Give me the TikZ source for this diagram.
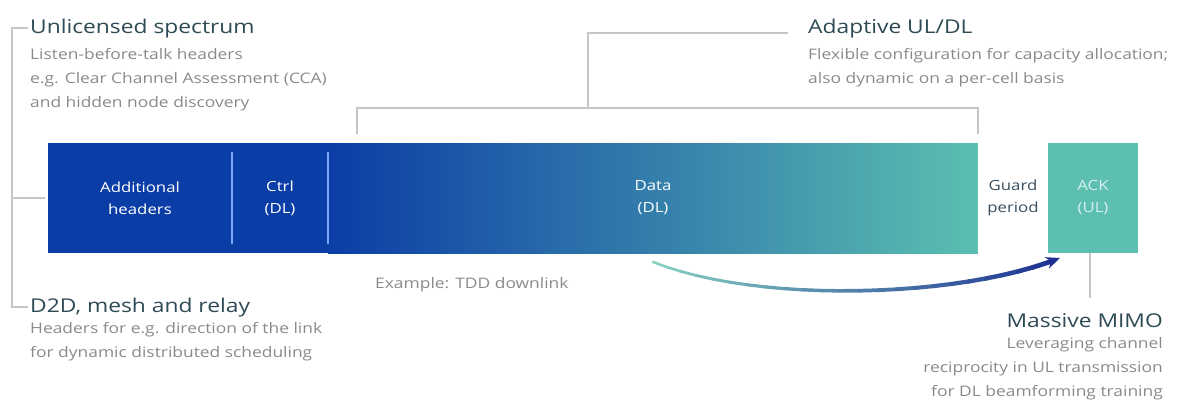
\documentclass[tikz,border=0pt]{standalone}
\usepackage{fontspec}
\setmainfont[FakeStretch=1.2]{Open Sans}
\usetikzlibrary{arrows.meta, positioning}
\definecolor{barblue}{HTML}{0B3DA6}
\definecolor{barteal}{HTML}{5CBFB0}
\definecolor{seplight}{HTML}{7FA6F2}
\definecolor{titlecol}{HTML}{2E4A55}
\definecolor{bodycol}{HTML}{8A8A8A}
\definecolor{bracketcol}{HTML}{C6C6C6}
\definecolor{guardtext}{HTML}{3A4F5E}
\definecolor{acktext}{HTML}{D6F1EC}
\definecolor{arrownavy}{HTML}{1C2F92}
\definecolor{arrowteal}{HTML}{86D0C2}
\tikzset{
  slot/.style = {minimum height=110pt, inner sep=0pt, outer sep=0pt,
    align=center, text=white, font=\fontsize{14}{22}\selectfont},
  headline/.style = {inner sep=0pt, text=titlecol,
    font=\fontsize{19}{24}\selectfont},
  bodytext/.style = {inner sep=0pt, text=bodycol,
    font=\fontsize{14.5}{24}\selectfont},
  bracket/.style = {draw=bracketcol, line width=1.5pt},
  sepline/.style = {draw=seplight, line width=2pt}
}

\begin{document}
\begin{tikzpicture}[x=1pt, y=-1pt]
\useasboundingbox (0,0) rectangle (1188,405);

\node [slot, fill=barblue, minimum width=184pt, anchor=north west] (hdr) at (48,143) {Additional\\headers};
\node [slot, fill=barblue, minimum width=96pt, right=0pt of hdr] (ctrl) {Ctrl\\(DL)};
\node [slot, left color=barblue, right color=barteal, minimum width=650pt, right=0pt of ctrl] (data) {Data\\(DL)};
\node [slot, fill=white, text=guardtext, minimum width=70pt, right=0pt of data] (guard) {Guard\\period};
\node [slot, fill=barteal, text=acktext, minimum width=90pt, right=0pt of guard] (ack) {ACK\\(UL)};

\draw [sepline] ([yshift=-9pt]hdr.north east) -- ([yshift=9pt]hdr.south east);
\draw [sepline] ([yshift=-9pt]ctrl.north east) -- ([yshift=9pt]ctrl.south east);

\node [headline, anchor=base west] (unlic) at (30,33) {Unlicensed spectrum};
\node [bodytext, anchor=north west, align=left] (unlictxt) at (30,48)
  {Listen-before-talk headers\\e.g. Clear Channel Assessment (CCA)\\and hidden node discovery};

\node [headline, anchor=base west] (d2d) at (30,312) {D2D, mesh and relay};
\node [bodytext, anchor=north west, align=left] (d2dtxt) at (30,322)
  {Headers for e.g. direction of the link\\for dynamic distributed scheduling};

\node [headline, anchor=base west] (adapt) at (808,33) {Adaptive UL/DL};
\node [bodytext, anchor=north west, align=left] (adapttxt) at (808,48)
  {Flexible configuration for capacity allocation;\\also dynamic on a per-cell basis};

\node [headline, anchor=base east] (mimo) at (1163,327) {Massive MIMO};
\node [bodytext, anchor=north east, align=right] (mimotxt) at (1163,337)
  {Leveraging channel\\reciprocity in UL transmission\\for DL beamforming training};

\node [bodytext, anchor=west] (example) at (375,285) {Example: TDD downlink};

\draw [bracket] ([xshift=-2pt]unlic.west) -- ++(-16,0) coordinate (lt)
  -- (lt |- d2d.west) -- ([xshift=-2pt]d2d.west);
\draw [bracket] (lt |- hdr.west) -- ([xshift=-3pt]hdr.west);

\draw [bracket] ([shift={(29pt,9pt)}]data.north west) -- ++(0,-26)
  -- ([yshift=35pt]data.north east) -- ([yshift=9pt]data.north east);
\draw [bracket] ([xshift=-20pt]adapt.base west) -| (588,108);

\draw [bracket] ([xshift=-3pt]ack.south) -- ++(0,45);

\coordinate (astart) at ([yshift=-9pt]data.south);
\coordinate (aend) at ([shift={(12pt,-5pt)}]ack.south west);
\path (astart) .. controls +(105,42) and +(-100,40) .. (aend)
  foreach \i in {0,...,24} {coordinate[pos=\i/24] (p\i)};
\foreach \i [evaluate=\i as \j using int(\i+1),
             evaluate=\i as \mix using int(100*\i/23),
             evaluate=\i as \lw using 2.6+2.2*\i/23] in {0,...,22}
  \draw [line width=\lw pt, line cap=round, color=arrownavy!\mix!arrowteal] (p\i) -- (p\j);
\draw [-{Stealth[length=14pt, width=12pt]}, line width=4.6pt, arrownavy] (p23) -- (p24);
\end{tikzpicture}
\end{document}
